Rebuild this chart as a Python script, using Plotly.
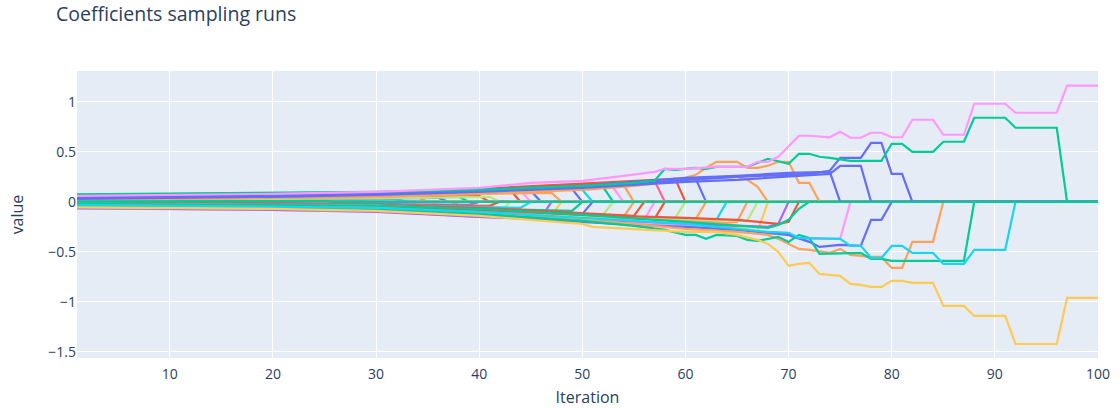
import plotly.graph_objects as go

# Palette (plotly default colours), used as style only
BLUE, RED, GREEN, PURPLE, ORANGE = "#636EFA", "#EF553B", "#00CC96", "#AB63FA", "#FFA15A"
CYAN, PINKRED, LIGHTGREEN, PINK, YELLOW = "#19D3F3", "#FF6692", "#B6E880", "#FF97FF", "#FECB52"

# ---- data: sampled coefficient values, (iteration, value) points per run ----
early_runs = [
    [(1, 0.008), (15, 0.010), (27, 0.013), (28, 0), (100, 0)],
    [(1, 0.012), (15, 0.016), (30, 0.02), (31, 0), (100, 0)],
    [(1, 0.01), (20, 0.017), (32, 0.025), (33, 0), (100, 0)],
    [(1, 0.025), (20, 0.033), (34, 0.045), (35, 0), (100, 0)],
    [(1, 0.015), (20, 0.024), (36, 0.04), (37, 0), (100, 0)],
    [(1, 0.02), (20, 0.03), (38, 0.05), (39, 0), (100, 0)],
    [(1, 0.03), (20, 0.04), (30, 0.05), (40, 0.06), (41, 0), (100, 0)],
    [(1, 0.018), (20, 0.027), (30, 0.035), (41, 0.05), (42, 0), (100, 0)],
    [(1, 0.05), (20, 0.065), (30, 0.08), (40, 0.11), (43, 0.12), (44, 0), (100, 0)],
    [(1, 0.035), (20, 0.05), (30, 0.07), (40, 0.10), (44, 0.11), (45, 0), (100, 0)],
    [(1, 0.04), (20, 0.055), (30, 0.07), (40, 0.09), (45, 0.11), (46, 0), (100, 0)],
    [(1, 0.02), (20, 0.035), (30, 0.05), (40, 0.08), (47, 0.09), (48, 0), (100, 0)],
    [(1, 0.045), (20, 0.06), (30, 0.08), (40, 0.12), (48, 0.14), (49, 0.13), (50, 0), (100, 0)],
    [(1, 0.04), (20, 0.058), (30, 0.075), (40, 0.10), (49, 0.13), (50, 0.12), (51, 0), (100, 0)],
    [(1, 0.07), (20, 0.082), (30, 0.095), (40, 0.13), (50, 0.16), (52, 0.15), (53, 0), (100, 0)],
    [(1, 0.03), (20, 0.05), (30, 0.07), (40, 0.11), (50, 0.15), (53, 0.14), (54, 0), (100, 0)],
    [(1, 0.055), (20, 0.07), (30, 0.085), (40, 0.12), (50, 0.16), (53, 0.18), (54, 0.17), (55, 0), (100, 0)],
    [(1, 0.05), (20, 0.07), (30, 0.09), (40, 0.12), (50, 0.17), (55, 0.20), (57, 0.21), (58, 0), (100, 0)],
    [(1, 0.06), (20, 0.075), (30, 0.09), (40, 0.13), (50, 0.18), (57, 0.22), (59, 0.23), (60, 0), (100, 0)],
    [(1, 0.035), (20, 0.055), (30, 0.08), (40, 0.11), (50, 0.16), (58, 0.21), (61, 0.23), (62, 0), (100, 0)],
    [(1, 0.02), (20, 0.035), (30, 0.05), (40, 0.08), (50, 0.12), (55, 0.16), (61, 0.23), (65, 0.25),
     (66, 0.22), (67, 0.15), (68, 0), (100, 0)],
    [(1, -0.04), (15, -0.045), (28, -0.05), (29, 0), (100, 0)],
    [(1, -0.01), (20, -0.015), (31, -0.02), (32, 0), (100, 0)],
    [(1, -0.035), (20, -0.043), (33, -0.055), (34, 0), (100, 0)],
    [(1, -0.03), (20, -0.04), (35, -0.055), (36, 0), (100, 0)],
    [(1, -0.02), (20, -0.028), (37, -0.045), (38, 0), (100, 0)],
    [(1, -0.005), (20, -0.012), (39, -0.03), (40, 0), (100, 0)],
    [(1, -0.01), (20, -0.018), (41, -0.04), (42, 0), (100, 0)],
    [(1, -0.045), (20, -0.06), (30, -0.075), (40, -0.10), (42, -0.11), (43, 0), (100, 0)],
    [(1, -0.015), (20, -0.022), (30, -0.03), (40, -0.05), (44, -0.06), (45, 0), (100, 0)],
    [(1, -0.065), (20, -0.08), (30, -0.10), (40, -0.15), (46, -0.16), (47, 0), (100, 0)],
    [(1, -0.05), (20, -0.065), (30, -0.08), (40, -0.12), (47, -0.13), (48, 0), (100, 0)],
    [(1, -0.02), (20, -0.03), (30, -0.04), (40, -0.07), (49, -0.09), (50, 0), (100, 0)],
    [(1, -0.04), (20, -0.055), (30, -0.07), (40, -0.12), (50, -0.12), (51, 0), (100, 0)],
    [(1, -0.06), (20, -0.075), (30, -0.09), (40, -0.14), (50, -0.14), (52, -0.13), (53, 0), (100, 0)],
    [(1, -0.025), (20, -0.038), (30, -0.05), (40, -0.09), (50, -0.13), (54, -0.15), (55, 0), (100, 0)],
    [(1, -0.01), (20, -0.02), (30, -0.03), (40, -0.06), (50, -0.11), (55, -0.14), (56, 0), (100, 0)],
    [(1, -0.045), (20, -0.058), (30, -0.07), (40, -0.11), (50, -0.15), (56, -0.18), (57, 0), (100, 0)],
    [(1, -0.035), (20, -0.048), (30, -0.06), (40, -0.10), (50, -0.14), (57, -0.17), (58, 0), (100, 0)],
    [(1, -0.055), (20, -0.068), (30, -0.08), (40, -0.12), (50, -0.14), (58, -0.17), (59, -0.16), (60, 0), (100, 0)],
    [(1, -0.03), (20, -0.04), (30, -0.05), (40, -0.09), (50, -0.14), (60, -0.17), (61, -0.17), (62, 0), (100, 0)],
    [(1, -0.015), (20, -0.025), (30, -0.035), (40, -0.08), (50, -0.13), (60, -0.17), (63, -0.18), (64, 0), (100, 0)],
    [(1, -0.02), (20, -0.03), (30, -0.04), (40, -0.08), (50, -0.14), (60, -0.19), (64, -0.21), (65, -0.20),
     (66, 0), (100, 0)],
    [(1, -0.05), (20, -0.065), (30, -0.08), (40, -0.13), (50, -0.14), (60, -0.17), (66, -0.19), (67, 0), (100, 0)],
    [(1, -0.04), (20, -0.055), (30, -0.07), (40, -0.11), (50, -0.16), (60, -0.22), (65, -0.26), (67, -0.29),
     (68, 0), (100, 0)],
    [(1, -0.06), (20, -0.075), (30, -0.09), (40, -0.15), (50, -0.19), (60, -0.22), (65, -0.24), (68, -0.25),
     (69, -0.22), (70, 0), (100, 0)],
    [(1, -0.025), (20, -0.035), (30, -0.045), (40, -0.08), (50, -0.13), (60, -0.16), (65, -0.18), (68, -0.21),
     (69, -0.22), (70, -0.20), (71, 0), (100, 0)],
    [(1, -0.02), (20, -0.03), (30, -0.04), (40, -0.07), (50, -0.13), (60, -0.20), (65, -0.24), (68, -0.26),
     (69, -0.23), (70, -0.18), (71, -0.07), (72, 0), (100, 0)],
]
early_colors = [
    PINKRED, PURPLE, CYAN, ORANGE, BLUE, GREEN, RED, LIGHTGREEN, RED, PINK, BLUE, ORANGE, BLUE, CYAN,
    GREEN, PINK, ORANGE, PINKRED, RED, BLUE, ORANGE,
    PINK, BLUE, LIGHTGREEN, YELLOW, ORANGE, PURPLE, RED, LIGHTGREEN, CYAN, PURPLE, YELLOW, GREEN, BLUE,
    LIGHTGREEN, ORANGE, RED, PINK, RED, LIGHTGREEN, ORANGE, CYAN, ORANGE, LIGHTGREEN, YELLOW, PURPLE,
    RED, GREEN,
]

late_runs = [
    # pink, negative, zero at 76
    [(1, -0.05), (20, -0.065), (30, -0.08), (40, -0.12), (50, -0.19), (60, -0.24), (65, -0.28), (69, -0.32),
     (70, -0.33), (71, -0.37), (75, -0.37), (76, 0), (100, 0)],
    # blue, negative, zero at 80
    [(1, -0.045), (20, -0.06), (30, -0.08), (40, -0.14), (50, -0.20), (55, -0.23), (60, -0.25), (65, -0.28),
     (70, -0.33), (72, -0.40), (73, -0.45), (75, -0.43), (77, -0.44), (78, -0.18), (79, -0.18), (80, 0), (100, 0)],
    # orange, negative, zero at 85
    [(1, -0.035), (20, -0.05), (30, -0.06), (40, -0.11), (50, -0.18), (55, -0.22), (60, -0.27), (65, -0.30),
     (68, -0.33), (69, -0.37), (71, -0.47), (72, -0.48), (74, -0.51), (75, -0.47), (76, -0.53), (78, -0.55),
     (79, -0.55), (80, -0.66), (81, -0.66), (82, -0.40), (84, -0.40), (85, 0), (100, 0)],
    # green, negative, zero at 88
    [(1, -0.04), (20, -0.055), (30, -0.07), (40, -0.12), (50, -0.19), (55, -0.24), (58, -0.28), (60, -0.33),
     (61, -0.33), (62, -0.37), (63, -0.33), (65, -0.34), (66, -0.38), (67, -0.39), (68, -0.37), (69, -0.35),
     (70, -0.40), (71, -0.33), (72, -0.36), (73, -0.52), (77, -0.51), (78, -0.57), (79, -0.57), (80, -0.59),
     (87, -0.59), (88, 0), (100, 0)],
    # cyan, negative, zero at 92
    [(1, -0.03), (20, -0.045), (30, -0.06), (40, -0.10), (50, -0.16), (55, -0.19), (60, -0.22), (65, -0.27),
     (68, -0.30), (70, -0.31), (71, -0.36), (75, -0.37), (76, -0.44), (77, -0.44), (78, -0.56), (79, -0.56),
     (80, -0.44), (81, -0.44), (82, -0.51), (84, -0.51), (85, -0.62), (87, -0.62), (88, -0.48), (91, -0.48),
     (92, 0), (100, 0)],
    # yellow, negative, survives
    [(1, -0.055), (20, -0.07), (30, -0.09), (40, -0.14), (45, -0.18), (50, -0.22), (51, -0.25), (55, -0.27),
     (60, -0.30), (63, -0.30), (65, -0.33), (67, -0.38), (68, -0.42), (69, -0.50), (70, -0.64), (71, -0.62),
     (72, -0.61), (73, -0.72), (75, -0.74), (76, -0.82), (77, -0.83), (78, -0.85), (79, -0.85), (80, -0.79),
     (81, -0.79), (82, -0.81), (84, -0.81), (85, -1.04), (87, -1.04), (88, -1.14), (91, -1.14), (92, -1.42),
     (96, -1.42), (97, -0.96), (100, -0.96)],
    # orange, positive, zero at 73
    [(1, 0.05), (20, 0.065), (30, 0.08), (40, 0.10), (50, 0.13), (55, 0.17), (58, 0.22), (60, 0.24), (61, 0.27),
     (62, 0.34), (63, 0.40), (65, 0.40), (66, 0.34), (67, 0.34), (68, 0.36), (69, 0.40), (70, 0.40), (71, 0.19),
     (72, 0.19), (73, 0), (100, 0)],
    # blue, positive, zero at 75
    [(1, 0.045), (20, 0.065), (30, 0.085), (40, 0.12), (50, 0.16), (60, 0.24), (65, 0.26), (70, 0.29),
     (74, 0.30), (75, 0), (100, 0)],
    # blue, positive, zero at 78
    [(1, 0.03), (20, 0.05), (30, 0.07), (40, 0.10), (50, 0.14), (60, 0.20), (65, 0.22), (70, 0.25), (74, 0.28),
     (75, 0.36), (77, 0.36), (78, 0), (100, 0)],
    # blue, positive, zero at 82
    [(1, 0.04), (20, 0.06), (30, 0.08), (40, 0.11), (50, 0.15), (55, 0.18), (60, 0.22), (65, 0.25), (70, 0.27),
     (72, 0.28), (74, 0.31), (75, 0.44), (77, 0.44), (78, 0.59), (79, 0.59), (80, 0.28), (81, 0.28), (82, 0),
     (100, 0)],
    # green, positive, zero at 97
    [(1, 0.075), (20, 0.09), (30, 0.10), (40, 0.12), (50, 0.16), (55, 0.19), (57, 0.21), (58, 0.33), (59, 0.32),
     (61, 0.34), (62, 0.33), (63, 0.35), (66, 0.35), (68, 0.43), (70, 0.38), (71, 0.48), (72, 0.48), (73, 0.45),
     (74, 0.44), (76, 0.41), (79, 0.41), (80, 0.58), (81, 0.58), (82, 0.50), (84, 0.50), (85, 0.60), (87, 0.60),
     (88, 0.84), (91, 0.84), (92, 0.74), (96, 0.74), (97, 0), (100, 0)],
    # pink, positive, survives
    [(1, 0.06), (20, 0.08), (30, 0.10), (40, 0.14), (45, 0.19), (50, 0.21), (54, 0.26), (57, 0.30), (58, 0.33),
     (60, 0.33), (63, 0.35), (66, 0.35), (67, 0.40), (68, 0.40), (69, 0.45), (70, 0.56), (71, 0.66), (72, 0.66),
     (73, 0.65), (74, 0.645), (75, 0.70), (76, 0.64), (77, 0.64), (78, 0.69), (79, 0.69), (80, 0.645),
     (81, 0.645), (82, 0.82), (84, 0.82), (85, 0.67), (87, 0.67), (88, 0.98), (91, 0.98), (92, 0.89),
     (96, 0.89), (97, 1.16), (100, 1.16)],
    # green, tiny, zero at 26 (drawn last)
    [(1, 0.005), (25, 0.008), (26, 0), (100, 0)],
]
late_colors = [PINK, BLUE, ORANGE, GREEN, CYAN, YELLOW, ORANGE, BLUE, BLUE, BLUE, GREEN, PINK, GREEN]

x_tick_values = [10, 20, 30, 40, 50, 60, 70, 80, 90, 100]
y_tick_values = [-1.5, -1, -0.5, 0, 0.5, 1]

runs = early_runs + late_runs
colors = early_colors + late_colors
assert len(runs) == len(colors)

fig = go.Figure()
for i, (pts, col) in enumerate(zip(runs, colors)):
    fig.add_trace(go.Scatter(
        x=[p[0] for p in pts], y=[p[1] for p in pts],
        mode="lines", line=dict(color=col, width=2.2),
        name=f"coef {i}", showlegend=False,
    ))

fig.update_layout(
    template="plotly",
    width=1120, height=408,
    margin=dict(l=77, r=22, t=71, b=50, autoexpand=False),
    title=dict(text="Coefficients sampling runs", x=0.05, y=0.982, yanchor="top",
               font=dict(size=19.5)),
    xaxis=dict(title=dict(text="Iteration", font=dict(size=16), standoff=10),
               range=[1, 100], tickvals=x_tick_values, tickfont=dict(size=14),
               ticklabelstandoff=6, automargin=False),
    yaxis=dict(title=dict(text="value", font=dict(size=16), standoff=20),
               range=[-1.56, 1.307], tickvals=y_tick_values, tickfont=dict(size=14),
               automargin=False),
    showlegend=False,
)
fig.write_html("out.html")
